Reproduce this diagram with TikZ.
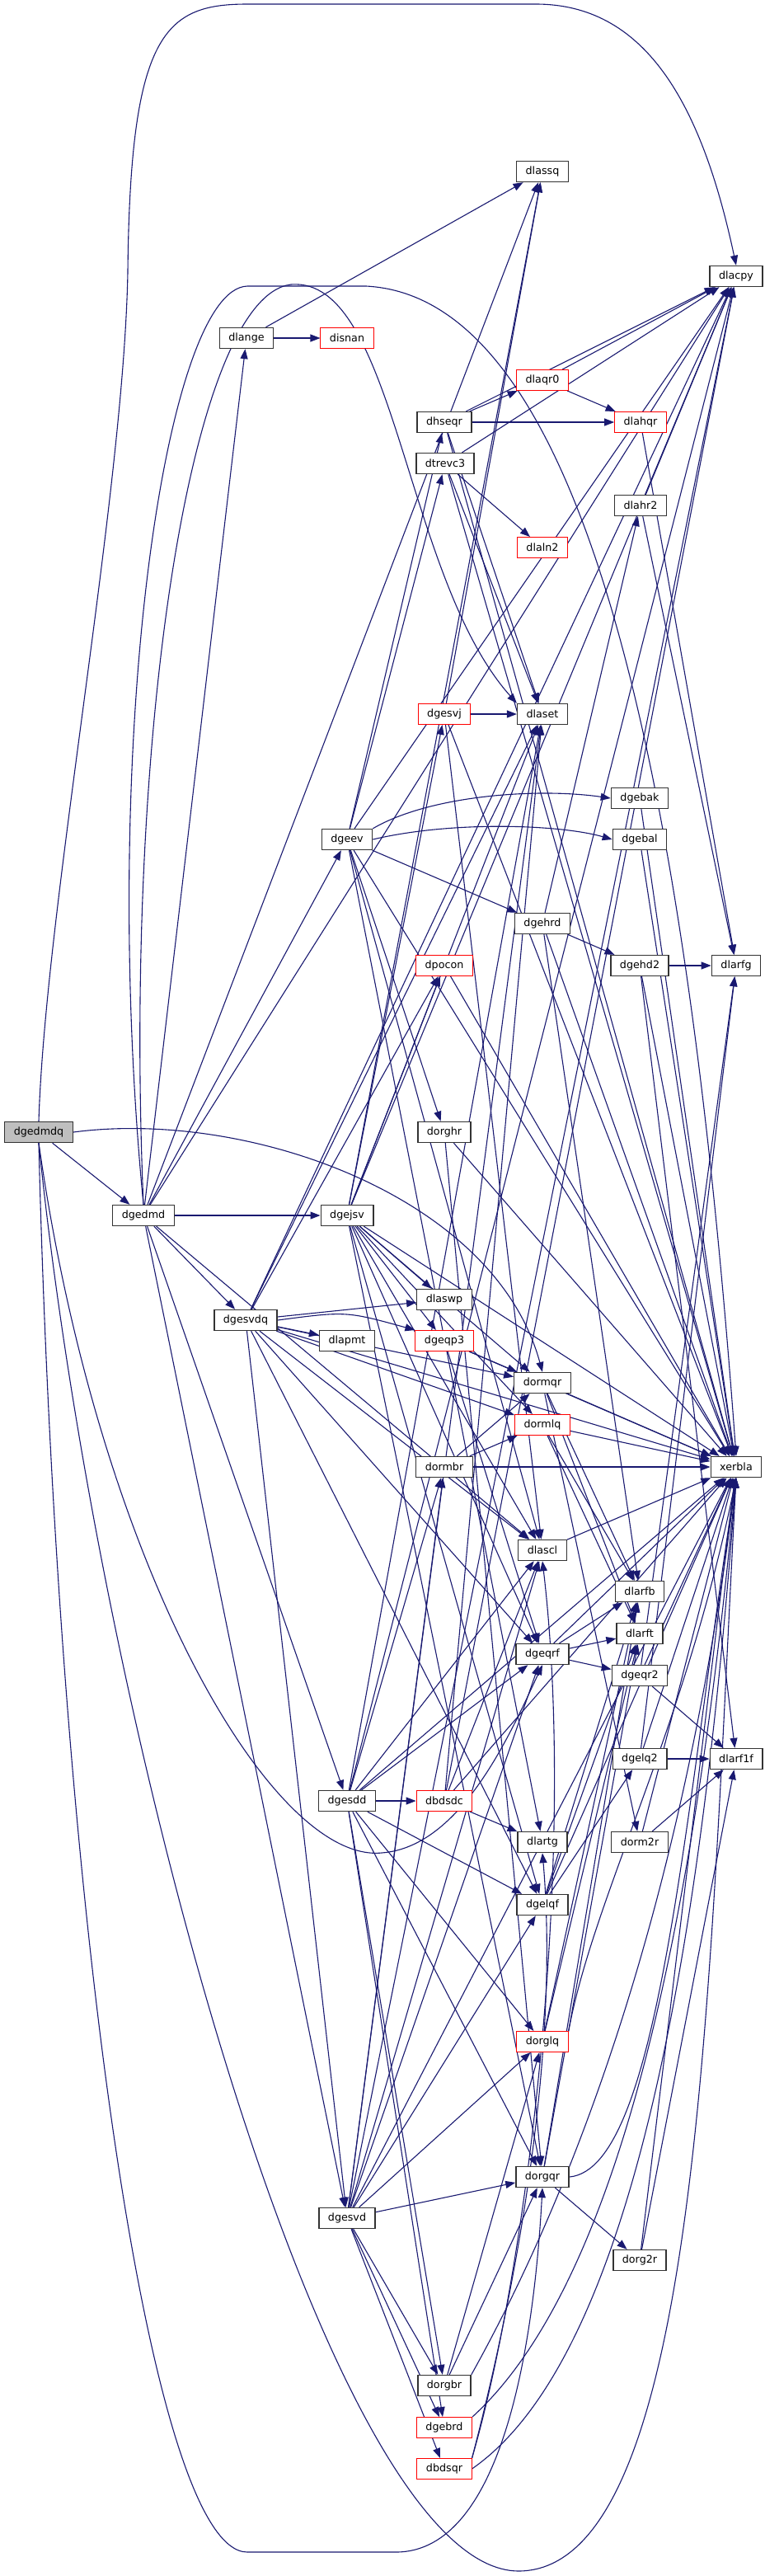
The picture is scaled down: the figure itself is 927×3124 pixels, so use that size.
\documentclass[tikz,border=0pt]{standalone}
\usepackage{fontspec}
\setmainfont{DejaVu Sans}
\usetikzlibrary{arrows.meta,backgrounds}
\definecolor{callblue}{HTML}{191970}
\definecolor{rootfill}{HTML}{BFBFBF}
\definecolor{boxedge}{HTML}{333333}
\definecolor{trunced}{HTML}{FF0000}

\begin{document}
\begin{tikzpicture}[x=1pt, y=-1pt, >={Triangle[length=12pt,width=9pt]},
    fn/.style={draw=boxedge, line width=1.4pt, fill=white, minimum height=25pt,
      inner xsep=11pt, inner ysep=0pt, font=\fontsize{12.7}{13}\selectfont},
    trunc/.style={fn, draw=trunced, line width=1pt},
    root/.style={fn, fill=rootfill},
    call/.style={callblue, line width=1.1pt, ->}]
  \useasboundingbox (0,0) rectangle (927,3124);

  % callers on the left
  \node[root] (dgedmdq) at (47,1373) {dgedmdq};
  \node[fn] (dgedmd) at (174,1474) {dgedmd};
  \node[fn] (dlange) at (299,410) {dlange};
  \node[fn] (dgesvdq) at (298,1601) {dgesvdq};

  % drivers
  \node[trunc] (disnan) at (421,410) {disnan};
  \node[fn] (dgeev) at (421,1018) {dgeev};
  \node[fn] (dgejsv) at (421,1474) {dgejsv};
  \node[fn] (dlapmt) at (421,1626) {dlapmt};
  \node[fn] (dgesdd) at (421,2184) {dgesdd};
  \node[fn] (dgesvd) at (421,2690) {dgesvd};

  % middle column
  \node[fn] (dhseqr) at (539,512) {dhseqr};
  \node[fn] (dtrevc3) at (540,562) {dtrevc3};
  \node[trunc] (dgesvj) at (539,866) {dgesvj};
  \node[trunc] (dpocon) at (539,1171) {dpocon};
  \node[fn] (dorghr) at (539,1373) {dorghr};
  \node[fn] (dlaswp) at (539,1576) {dlaswp};
  \node[trunc] (dgeqp3) at (539,1626) {dgeqp3};
  \node[fn] (dormbr) at (539,1779) {dormbr};
  \node[trunc] (dbdsdc) at (539,2184) {dbdsdc};
  \node[fn] (dorgbr) at (539,2893) {dorgbr};
  \node[trunc] (dgebrd) at (539,2944) {dgebrd};
  \node[trunc] (dbdsqr) at (539,2994) {dbdsqr};

  \node[fn] (dlassq) at (658,208) {dlassq};
  \node[trunc] (dlaqr0) at (658,461) {dlaqr0};
  \node[trunc] (dlaln2) at (658,664) {dlaln2};
  \node[fn] (dlaset) at (658,866) {dlaset};
  \node[fn] (dgehrd) at (658,1120) {dgehrd};
  \node[fn] (dormqr) at (658,1677) {dormqr};
  \node[trunc] (dormlq) at (658,1728) {dormlq};
  \node[fn] (dlascl) at (658,1880) {dlascl};
  \node[fn] (dgeqrf) at (658,2006) {dgeqrf};
  \node[fn] (dlartg) at (658,2234) {dlartg};
  \node[fn] (dgelqf) at (658,2310) {dgelqf};
  \node[trunc] (dorglq) at (658,2476) {dorglq};
  \node[fn] (dorgqr) at (658,2640) {dorgqr};

  % Householder helpers
  \node[trunc] (dlahqr) at (777,512) {dlahqr};
  \node[fn] (dlahr2) at (777,613) {dlahr2};
  \node[fn] (dgebak) at (776,968) {dgebak};
  \node[fn] (dgebal) at (776,1018) {dgebal};
  \node[fn] (dgehd2) at (776,1171) {dgehd2};
  \node[fn] (dlarfb) at (776,1930) {dlarfb};
  \node[fn] (dlarft) at (776,1981) {dlarft};
  \node[fn] (dgeqr2) at (776,2032) {dgeqr2};
  \node[fn] (dgelq2) at (776,2133) {dgelq2};
  \node[fn] (dorm2r) at (776,2234) {dorm2r};
  \node[fn] (dorg2r) at (776,2741) {dorg2r};

  % leaves
  \node[fn] (dlacpy) at (893,335) {dlacpy};
  \node[fn] (dlarfg) at (893,1171) {dlarfg};
  \node[fn] (xerbla) at (893,1779) {xerbla};
  \node[fn] (dlarf1f) at (893,2133) {dlarf1f};

  \begin{scope}[on background layer]
    % root
    \draw[call] (dgedmdq) -- (dgedmd);
    \draw[call] (dgedmdq.north) .. controls (55,1100) and (150,600) .. (155,330)
      .. controls (158,40) and (200,5) .. (300,5) -- (650,5)
      .. controls (780,5) and (850,120) .. (dlacpy.north);
    \draw[call] (dgedmdq.east) .. controls (300,1345) and (600,1450) .. (dormqr.north);
    \draw[call] (dgedmdq.south) .. controls (120,1900) and (330,2260) .. (463,2247)
      .. controls (560,2240) and (620,2100) .. (dgeqrf.south);
    \draw[call] (dgedmdq.south) .. controls (70,2300) and (180,3095) .. (300,3095)
      -- (480,3095) .. controls (620,3095) and (650,2800) .. (dorgqr.south);
    \draw[call] (dgedmdq.south) .. controls (120,2100) and (400,3120) .. (630,3118)
      .. controls (850,3115) and (860,2400) .. (xerbla.south);

    % dgedmd
    \foreach \t in {dgeev,dgejsv,dgesvdq,dgesdd,dgesvd,dlange,dlassq,dlacpy,dlascl}
      \draw[call] (dgedmd) -- (\t);
    \draw[call] (dgedmd.north) .. controls (150,900) and (230,360) .. (353,345)
      .. controls (480,335) and (490,700) .. (dlaset.north west);
    \draw[call] (dgedmd.north) .. controls (120,900) and (200,350) .. (300,347)
      -- (444,347) .. controls (700,360) and (830,900) .. (xerbla.north);

    % drivers
    \foreach \t in {dlaswp,dlapmt,dgesvd,dpocon,dlacpy,dlaset,dormqr,dormlq,dlascl,dgeqrf,dgelqf,xerbla}
      \draw[call] (dgesvdq) -- (\t);
    \draw[call] (dgesvdq.east) .. controls (420,1590) .. (dgeqp3.north west);
    \foreach \t in {dhseqr,dtrevc3,dlacpy,dgehrd,dorghr,dlascl,dlartg,xerbla}
      \draw[call] (dgeev) -- (\t);
    \draw[call] (dgeev.north east) .. controls (520,965) and (650,955) .. (dgebak.west);
    \draw[call] (dgeev.east) .. controls (550,995) and (680,1000) .. (dgebal.west);
    \foreach \t in {dlassq,dlacpy,dgesvj,dlaset,dpocon,dlaswp,dgeqp3,dormqr,dormlq,dlascl,dgeqrf,dgelqf,dorgqr,xerbla}
      \draw[call] (dgejsv) -- (\t);
    \foreach \t in {dbdsdc,dlacpy,dlaset,dormbr,dlascl,dgeqrf,dgelqf,dorglq,dorgqr,dorgbr,dgebrd,xerbla}
      \draw[call] (dgesdd) -- (\t);
    \foreach \t in {dbdsqr,dlacpy,dlaset,dormbr,dlascl,dgeqrf,dgelqf,dorglq,dorgqr,dorgbr,dgebrd,xerbla}
      \draw[call] (dgesvd) -- (\t);
    \foreach \t in {dlassq,disnan}
      \draw[call] (dlange) -- (\t);

    % middle column
    \foreach \t in {dlacpy,dlaqr0,dlahqr,dlaset,xerbla}
      \draw[call] (dhseqr) -- (\t);
    \foreach \t in {dlacpy,dlaln2,dlaset,xerbla}
      \draw[call] (dtrevc3) -- (\t);
    \foreach \t in {dlassq,dlaset,dlascl,xerbla}
      \draw[call] (dgesvj) -- (\t);
    \draw[call] (dpocon) -- (xerbla);
    \foreach \t in {dorgqr,xerbla}
      \draw[call] (dorghr) -- (\t);
    \foreach \t in {dormqr,dgeqrf,xerbla}
      \draw[call] (dgeqp3) -- (\t);
    \foreach \t in {dormqr,dormlq,xerbla}
      \draw[call] (dormbr) -- (\t);
    \foreach \t in {dlacpy,dlaset,dlascl,dlartg,xerbla}
      \draw[call] (dbdsdc) -- (\t);
    \draw[call] (dorgbr) -- (dorglq);
    \draw[call] (dorgbr) -- (dorgqr);
    \draw[call] (dorgbr.north east) .. controls (700,2650) and (830,2300) .. (xerbla.south);
    \draw[call] (dgebrd.north east) .. controls (760,2760) and (845,2300) .. (xerbla.south);
    \draw[call] (dbdsqr.east) .. controls (780,2850) and (855,2300) .. (xerbla.south);
    \draw[call] (dbdsqr.north east) .. controls (640,2750) and (700,2250) .. (dlascl.south);
    \draw[call] (dbdsqr.north east) .. controls (620,2800) and (680,2500) .. (dlartg.south);

    \foreach \t in {dlacpy,dlahqr}
      \draw[call] (dlaqr0) -- (\t);
    \foreach \t in {dlahr2,dgehd2,dlarfb,xerbla}
      \draw[call] (dgehrd) -- (\t);
    \foreach \t in {dorm2r,dlarfb,dlarft,xerbla}
      \draw[call] (dormqr) -- (\t);
    \foreach \t in {dlarfb,dlarft,xerbla}
      \draw[call] (dormlq) -- (\t);
    \draw[call] (dlascl) -- (xerbla);
    \foreach \t in {dgeqr2,dlarfb,dlarft,xerbla}
      \draw[call] (dgeqrf) -- (\t);
    \foreach \t in {dgelq2,dlarfb,dlarft,xerbla}
      \draw[call] (dgelqf) -- (\t);
    \foreach \t in {dlarfb,dlarft}
      \draw[call] (dorglq) -- (\t);
    \draw[call] (dorglq.north east) .. controls (720,2300) and (830,2100) .. (xerbla.south);
    \foreach \t in {dorg2r,dlarfb,dlarft}
      \draw[call] (dorgqr) -- (\t);
    \draw[call] (dorgqr.east) .. controls (800,2630) and (830,2200) .. (xerbla.south);

    % helpers
    \draw[call] (dlahqr) -- (dlarfg);
    \foreach \t in {dlacpy,dlarfg}
      \draw[call] (dlahr2) -- (\t);
    \draw[call] (dgebak) -- (xerbla);
    \draw[call] (dgebal) -- (xerbla);
    \foreach \t in {dlarfg,dlarf1f,xerbla}
      \draw[call] (dgehd2) -- (\t);
    \foreach \t in {dlarfg,dlarf1f,xerbla}
      \draw[call] (dgeqr2) -- (\t);
    \foreach \t in {dlarfg,dlarf1f,xerbla}
      \draw[call] (dgelq2) -- (\t);
    \foreach \t in {dlarf1f,xerbla}
      \draw[call] (dorm2r) -- (\t);
    \foreach \t in {dlarf1f,xerbla}
      \draw[call] (dorg2r) -- (\t);
  \end{scope}
\end{tikzpicture}
\end{document}
